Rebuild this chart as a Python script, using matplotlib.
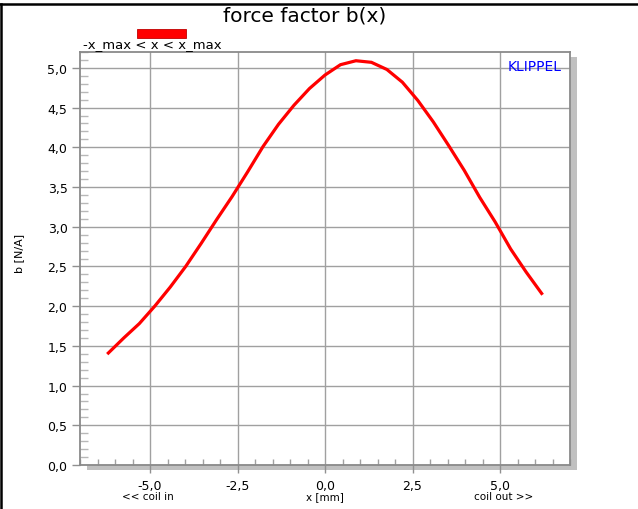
import matplotlib
matplotlib.use("Agg")
import matplotlib.pyplot as plt
import numpy as np
from matplotlib.patches import Rectangle
from matplotlib.lines import Line2D
from matplotlib.ticker import MultipleLocator, FuncFormatter
import matplotlib.transforms as mtransforms

# displacement x [mm] and force factor b(x) [N/A]
x_mm = [-6.19, -5.748, -5.306, -4.864, -4.422, -3.98, -3.538, -3.096, -2.654, -2.212,
        -1.77, -1.328, -0.886, -0.444, 0.0, 0.442, 0.884, 1.326, 1.768, 2.21,
        2.652, 3.094, 3.536, 3.978, 4.42, 4.862, 5.304, 5.746, 6.19]
b_val = [1.41, 1.60, 1.78, 2.00, 2.24, 2.50, 2.79, 3.09, 3.38, 3.69,
         4.01, 4.29, 4.53, 4.74, 4.91, 5.04, 5.09, 5.07, 4.98, 4.82,
         4.59, 4.32, 4.02, 3.71, 3.37, 3.06, 2.72, 2.43, 2.16]

W, H, DPI = 638, 510, 100
plt.rcParams["font.family"] = ["DejaVu Sans"]

fig = plt.figure(figsize=(W / DPI, H / DPI), dpi=DPI)
ax = fig.add_axes([80 / W, 1 - 466 / H, 490 / W, 413 / H])
ax.set_xlim(-7.0, 7.0)
ax.set_ylim(0.0, 5.2)

# drop shadow behind the plot area
shadow_off = mtransforms.ScaledTranslation(7 / DPI, -5 / DPI, fig.dpi_scale_trans)
shadow = Rectangle((0, 0), 1, 1, transform=ax.transAxes + shadow_off,
                   facecolor="#c0c0c0", edgecolor="none", zorder=-1)
fig.patches.append(shadow)
ax.set_facecolor("white")
ax.patch.set_zorder(0)

ax.plot(x_mm, b_val, color="#ff0000", lw=2.3, solid_joinstyle="miter", zorder=3)

ax.xaxis.set_major_locator(MultipleLocator(2.5))
ax.xaxis.set_minor_locator(MultipleLocator(0.5))
ax.yaxis.set_major_locator(MultipleLocator(0.5))
ax.yaxis.set_minor_locator(MultipleLocator(0.1))
fmt = FuncFormatter(lambda v, p: f"{v:.1f}".replace(".", ",").replace("-0,0", "0,0"))
ax.xaxis.set_major_formatter(fmt)
ax.yaxis.set_major_formatter(fmt)

ax.grid(True, which="major", color="#a0a0a0", lw=1.0)
ax.set_axisbelow(True)
ax.tick_params(which="major", direction="out", length=6, width=1.0, color="#909090",
               labelsize=9, pad=3)
ax.tick_params(axis="x", which="major", pad=4)
ax.tick_params(axis="y", which="minor", direction="in", length=6, width=1.0, color="#b8b8b8")
ax.tick_params(axis="x", which="minor", direction="in", length=4, width=1.0, color="#a0a0a0")
for s in ax.spines.values():
    s.set_color("#8a8a8a")
    s.set_linewidth(1.3)

# texts
fig.text(305 / W, 1 - 16 / H, "force factor b(x)", ha="center", va="center", fontsize=14.5)
fig.text(83 / W, 1 - 46 / H, "-x_max < x < x_max", ha="left", va="center", fontsize=9.5)
fig.add_artist(Rectangle((137 / W, 1 - 39 / H), 49 / W, 9 / H, transform=fig.transFigure,
                         facecolor="#ff0000", edgecolor="#c00000", lw=0.6))
fig.text(562 / W, 1 - 67 / H, "KLIPPEL", ha="right", va="center", fontsize=10, color="#0000ff")
fig.text(19 / W, 1 - 253 / H, "b [N/A]", ha="center", va="center", rotation=90, fontsize=8)
fig.text(148 / W, 1 - 497 / H, "<< coil in", ha="center", va="center", fontsize=7.5)
fig.text(325 / W, 1 - 497 / H, "x [mm]", ha="center", va="center", fontsize=7.5)
fig.text(504 / W, 1 - 497 / H, "coil out >>", ha="center", va="center", fontsize=7.5)

# frame lines at top and left
fig.add_artist(Line2D([0, 1], [1 - 5 / H, 1 - 5 / H], transform=fig.transFigure,
                      color="black", lw=1.8))
fig.add_artist(Line2D([1 / W, 1 / W], [0, 1 - 5 / H], transform=fig.transFigure,
                      color="black", lw=1.8))

fig.savefig("out.png", dpi=DPI)
